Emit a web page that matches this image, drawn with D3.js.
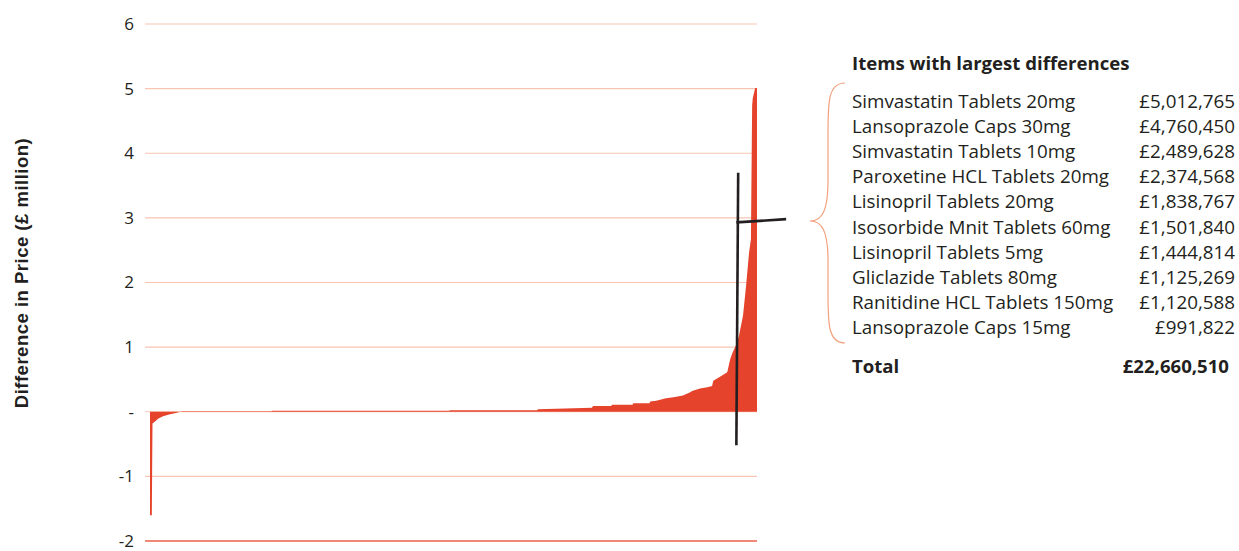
<!DOCTYPE html>
<html>
<head>
<meta charset="utf-8">
<script src="https://cdn.jsdelivr.net/npm/d3@7"></script>
<style>
  body { margin: 0; background: #fff; }
  svg { display: block; }
  .tick-label { font-family: "Open Sans", Lato, sans-serif; font-size: 17px; fill: #231f20; }
  .item { font-family: "Open Sans", Lato, sans-serif; font-size: 18.8px; fill: #231f20; }
  .head { font-family: "Open Sans", Lato, sans-serif; font-size: 18.6px; font-weight: bold; fill: #231f20; }
</style>
</head>
<body>
<svg></svg>
<script>
const width = 1239;
const height = 551;

// y axis ticks (£ million)
var yTicks = [-2, -1, 0, 1, 2, 3, 4, 5, 6];
var yTickLabels = ["-2", "-1", "-", "1", "2", "3", "4", "5", "6"];

// items ranked by difference: rank position (% of items) and difference (£ million)
var rankPct = [0, 0.3, 0.41, 0.82, 1.32, 2.14, 3.29, 4.28, 5.27, 20.0, 20.1, 49.3, 49.4, 63.8, 63.9,
    72.8, 73.0, 76.0, 76.1, 79.5, 79.6, 82.3, 82.4, 83.4, 85.0, 86.5, 87.8, 89.0, 89.3, 90.6, 91.8, 92.6, 92.8, 93.9,
    95.1, 95.6, 96.0, 96.5, 97.0, 97.7, 98.2, 98.7, 99.0, 99.2, 99.3, 99.7, 100];
var diffM = [-1.6, -1.6, -0.18, -0.15, -0.11, -0.07, -0.04, -0.02, 0.006, 0.006, 0.015, 0.015, 0.025, 0.025, 0.04,
    0.06, 0.09, 0.09, 0.11, 0.11, 0.13, 0.13, 0.16, 0.17, 0.21, 0.23, 0.25, 0.30, 0.32, 0.36, 0.38, 0.40, 0.48, 0.54,
    0.61, 0.82, 0.92, 1.02, 1.16, 1.49, 1.95, 2.47, 2.67, 4.74, 4.85, 5.01, 5.01];

// table of largest differences
var itemNames = ["Simvastatin Tablets 20mg", "Lansoprazole Caps 30mg", "Simvastatin Tablets 10mg",
    "Paroxetine HCL Tablets 20mg", "Lisinopril Tablets 20mg", "Isosorbide Mnit Tablets 60mg",
    "Lisinopril Tablets 5mg", "Gliclazide Tablets 80mg", "Ranitidine HCL Tablets 150mg",
    "Lansoprazole Caps 15mg"];
var itemValues = ["£5,012,765", "£4,760,450", "£2,489,628", "£2,374,568", "£1,838,767",
    "£1,501,840", "£1,444,814", "£1,125,269", "£1,120,588", "£991,822"];
var totalLabel = "Total";
var totalValue = "£22,660,510";

var svg = d3.select("svg").attr("width", width).attr("height", height);

var xScale = d3.scaleLinear().domain([0, 100]).range([150, 757]);
var yScale = d3.scaleLinear().domain([-2, 6]).range([541, 24]);

// gridlines
svg.append("g")
    .selectAll("line")
    .data(yTicks)
    .enter()
    .append("line")
    .attr("x1", 145)
    .attr("x2", 757)
    .attr("y1", d => yScale(d))
    .attr("y2", d => yScale(d))
    .attr("stroke", d => d == -2 ? "#ea6048" : "#f7c5b1")
    .attr("stroke-width", d => d == -2 ? 1.4 : 1.2);

svg.append("g")
    .selectAll("text")
    .data(yTicks)
    .enter()
    .append("text")
    .attr("class", "tick-label")
    .attr("x", 134)
    .attr("y", d => yScale(d))
    .attr("dy", "0.35em")
    .attr("text-anchor", "end")
    .text((d, i) => yTickLabels[i]);

svg.append("text")
    .attr("transform", "translate(22," + 273 + ") rotate(-90)")
    .attr("text-anchor", "middle")
    .attr("dy", "0.35em")
    .attr("font-family", "'Liberation Sans', Arial, sans-serif")
    .attr("font-weight", "bold")
    .attr("font-size", 18.5)
    .attr("letter-spacing", 0.5)
    .attr("fill", "#231f20")
    .text("Difference in Price (£ million)");

// the area of differences
var area = d3.area()
    .x((d, i) => xScale(rankPct[i]))
    .y0(yScale(0))
    .y1(d => yScale(d));

svg.append("path")
    .datum(diffM)
    .attr("d", area)
    .attr("fill", "#e5432b");

// hand drawn pointer lines
var pointer = [
    [[96.9, 3.7], [96.6, -0.52]],
    [[96.6, 2.93], [104.8, 2.98]]
];
svg.append("g")
    .selectAll("line")
    .data(pointer)
    .enter()
    .append("line")
    .attr("x1", d => xScale(d[0][0]))
    .attr("y1", d => yScale(d[0][1]))
    .attr("x2", d => xScale(d[1][0]))
    .attr("y2", d => yScale(d[1][1]))
    .attr("stroke", "#231f20")
    .attr("stroke-width", 2.6);

// table
var tx = 852, vx = 1235, rowY = 101, rowH = 25.2;

svg.append("text")
    .attr("class", "head")
    .attr("x", tx)
    .attr("y", 63)
    .attr("dy", "0.35em")
    .text("Items with largest differences");

var rows = svg.append("g")
    .selectAll("g")
    .data(itemNames)
    .enter()
    .append("g")
    .attr("transform", (d, i) => `translate(0,${rowY + i * rowH})`);

rows.append("text")
    .attr("class", "item")
    .attr("x", tx)
    .attr("dy", "0.35em")
    .text(d => d);

rows.append("text")
    .attr("class", "item")
    .attr("x", vx)
    .attr("dy", "0.35em")
    .attr("text-anchor", "end")
    .text((d, i) => itemValues[i]);

svg.append("text")
    .attr("class", "head")
    .attr("x", tx)
    .attr("y", 366)
    .attr("dy", "0.35em")
    .text(totalLabel);

svg.append("text")
    .attr("class", "head")
    .attr("x", 1229)
    .attr("y", 366)
    .attr("dy", "0.35em")
    .attr("text-anchor", "end")
    .text(totalValue);

// curly brace
var bTop = 83, bBot = 343, bMid = 221, bx = 845, bIn = 828, bTip = 810;
svg.append("path")
    .attr("d", `M${bx},${bTop} C${bIn},${bTop} ${bIn},${bTop + 20} ${bIn},${bTop + 50}
        L${bIn},${bMid - 40} C${bIn},${bMid - 10} ${bIn - 6},${bMid} ${bTip},${bMid}
        C${bIn - 6},${bMid} ${bIn},${bMid + 10} ${bIn},${bMid + 40}
        L${bIn},${bBot - 50} C${bIn},${bBot - 20} ${bIn},${bBot} ${bx},${bBot}`)
    .attr("fill", "none")
    .attr("stroke", "#f2a17f")
    .attr("stroke-width", 1.2);
</script>
</body>
</html>
